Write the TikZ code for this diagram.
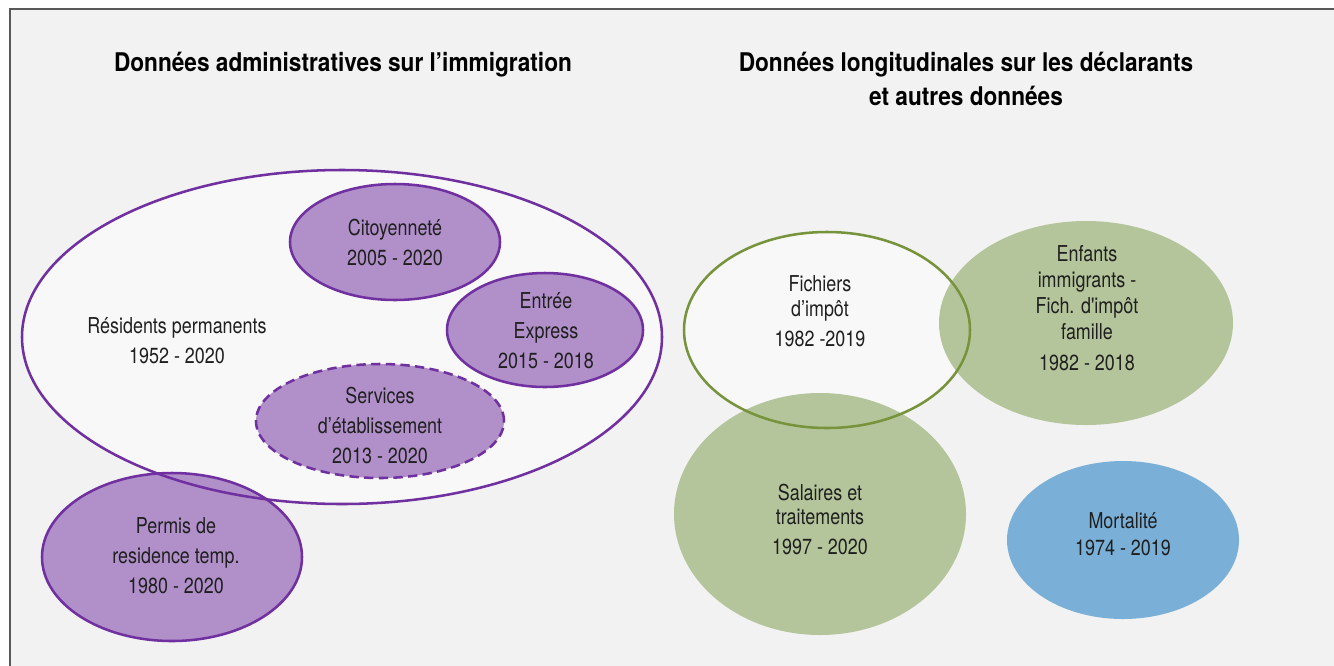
\documentclass[tikz,border=0pt]{standalone}
\usepackage{fontspec}
\setmainfont[FakeStretch=0.82]{TeX Gyre Heros}
\newfontfamily\titlefont[FakeStretch=0.88]{TeX Gyre Heros}
\newfontfamily\rawfont[FakeStretch=0.82]{TeX Gyre Heros}
\usepackage{tikz}
\usetikzlibrary{shapes.geometric}
\definecolor{framegray}{HTML}{595959}
\definecolor{bggray}{HTML}{F2F2F2}
\definecolor{paleinside}{HTML}{F8F8F8}
\definecolor{immpurple}{HTML}{7030A0}
\definecolor{immlilac}{HTML}{B190CA}
\definecolor{taxgreen}{HTML}{77933C}
\definecolor{taxolive}{HTML}{B5C59B}
\definecolor{mortblue}{HTML}{7AB0D8}
\definecolor{textgray}{HTML}{1F1F1F}

\begin{document}
\begin{tikzpicture}[x=0.75pt, y=-0.75pt,
		blob/.style={ellipse, inner sep=0pt, line width=1.9pt},
		immline/.style={blob, draw=immpurple},
		immfill/.style={blob, fill=immlilac, draw=immpurple},
		taxfill/.style={blob, fill=taxolive},
		blobtext/.style={align=center, text=textgray, font=\fontsize{16.4}{22.5}\selectfont},
		heading/.style={align=center, font=\titlefont\bfseries\fontsize{19.3}{25.5}\selectfont}]
		\useasboundingbox (0,0) rectangle (1334,665);
		% frame
		\draw[draw=framegray, line width=2pt, fill=bggray] (10,9) rectangle (1345,676);

		% titles
		\node[heading] (immtitle) at (343,65) {Données administratives sur l’immigration};
		\node[heading] (taxtitle) at (966,79) {Données longitudinales sur les déclarants\\et autres données};

		% immigration data
		\node[blob, fill=paleinside] (perm) at (342,337) [minimum width=480pt, minimum height=250.5pt] {};
		\node[immfill] (temp) at (172,557) [minimum width=195pt, minimum height=126pt] {};
		\node[immline] (permline) at (perm.center) [minimum width=480pt, minimum height=250.5pt] {};
		\node[immfill] (cit) at (395,242) [minimum width=157.5pt, minimum height=87pt] {};
		\node[immfill] (ee) at (545,330) [minimum width=147pt, minimum height=85.5pt] {};
		\node[immfill, dash pattern=on 7pt off 4pt] (serv) at (380,421) [minimum width=186pt, minimum height=85.5pt] {};

		\node[blobtext] (permtext) at (177,341) {Résidents permanents\\1952 - 2020};
		\node[blobtext] (temptext) at (176,556) {Permis de\\residence temp.\\1980 - 2020};
		\node[blobtext] (cittext) at (cit) {Citoyenneté\\2005 - 2020};
		\node[blobtext] (eetext) at (546,331) {Entrée\\Express\\2015 - 2018};
		\node[blobtext] (servtext) at (380,425) {Services\\d’établissement\\2013 - 2020};

		% tax filer and other data
		\node[blob, fill=paleinside] (fisc) at (827,330) [minimum width=214.5pt, minimum height=147pt] {};
		\node[taxfill] (enf) at (1086,323) [minimum width=220.5pt, minimum height=153pt] {};
		\node[taxfill] (sal) at (820,514) [minimum width=219pt, minimum height=181.5pt] {};
		\node[blob, draw=taxgreen] (fiscline) at (fisc.center) [minimum width=214.5pt, minimum height=147pt] {};
		\node[blob, fill=mortblue] (mort) at (1123,540) [minimum width=174pt, minimum height=118.5pt] {};

		\node[blobtext, font=\fontsize{16.4}{18.75}\selectfont] (fisctext) at (820,311) {Fichiers\\d’impôt\\[3.75pt]1982 -2019};
		\node[blobtext, font=\fontsize{16.4}{19.5}\selectfont] (enftext) at (1087,308) {Enfants\\immigrants -\\Fich. {\rawfont d'impôt}\\famille\\[3.75pt]1982 - 2018};
		\node[blobtext, font=\fontsize{16.4}{18}\selectfont] (saltext) at (820,519) {Salaires et\\traitements\\[4.5pt]1997 - 2020};
		\node[blobtext, font=\fontsize{16.4}{20.25}\selectfont] (morttext) at (1123,534) {Mortalité\\1974 - 2019};
	\end{tikzpicture}
\end{document}
